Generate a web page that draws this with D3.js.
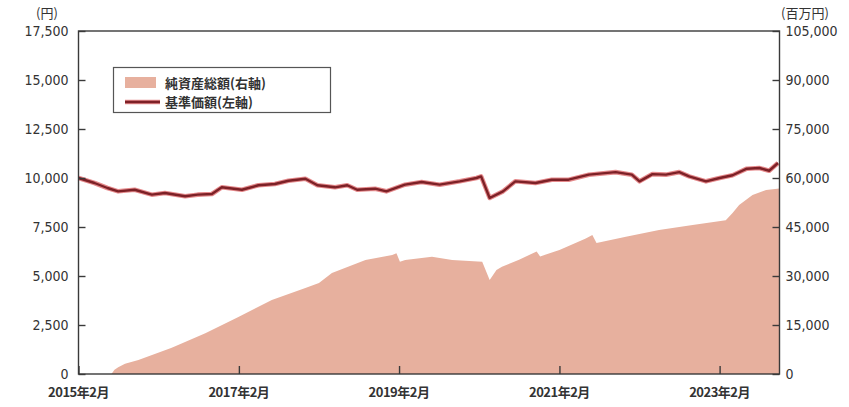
<!DOCTYPE html>
<html><head><meta charset="utf-8">
<script src="https://cdn.jsdelivr.net/npm/d3@7"></script>
<style>
html,body{margin:0;padding:0;background:#fff;}
svg{display:block;}
</style></head>
<body><svg id="c" width="849" height="407"></svg>
<script>
// ---- data ----
const navDates = ["2015-02-01","2015-04-15","2015-06-13","2015-08-01","2015-10-15","2016-01-01","2016-03-01","2016-06-01","2016-07-28","2016-10-01","2016-11-15","2017-02-15","2017-05-01","2017-07-15","2017-09-15","2017-12-01","2018-01-25","2018-04-15","2018-06-10","2018-07-25","2018-10-15","2018-12-05","2019-02-28","2019-05-15","2019-08-05","2019-11-05","2020-01-20","2020-02-10","2020-03-20","2020-05-20","2020-07-15","2020-10-15","2020-12-28","2021-03-15","2021-06-15","2021-10-15","2021-12-28","2022-02-01","2022-04-01","2022-06-01","2022-08-01","2022-09-15","2022-12-01","2023-02-01","2023-04-01","2023-06-05","2023-08-01","2023-09-15","2023-10-25"];
const navValues = [10000,9745,9490,9320,9400,9150,9235,9070,9150,9185,9525,9400,9630,9695,9860,9965,9630,9525,9630,9400,9455,9320,9660,9795,9660,9830,10000,10080,8980,9320,9830,9745,9913,9913,10170,10300,10170,9830,10200,10170,10300,10085,9830,10000,10140,10475,10510,10370,10765];

const assetDates = ["2015-07-01","2015-07-15","2015-08-01","2015-09-01","2015-11-01","2016-04-01","2016-09-01","2017-02-01","2017-07-01","2017-12-01","2018-02-01","2018-04-01","2018-09-01","2019-01-01","2019-01-20","2019-02-05","2019-03-01","2019-07-01","2019-10-01","2020-02-15","2020-03-20","2020-04-20","2020-05-15","2020-08-01","2020-10-20","2020-11-05","2021-02-01","2021-06-01","2021-07-01","2021-07-20","2021-12-01","2022-05-01","2022-10-01","2023-03-01","2023-04-01","2023-05-01","2023-07-01","2023-09-01","2023-11-01"];
const assetValues = [0,1300,2100,3100,4300,8000,12500,17500,22650,26300,27850,30900,34900,36400,37000,34400,34900,35900,34900,34400,28800,31800,32800,35000,37500,36000,37950,41500,42550,40100,42000,44100,45600,47100,49300,51700,54800,56300,56800];

const leftTicks = [0,2500,5000,7500,10000,12500,15000,17500];
const rightTicks = [0,15000,30000,45000,60000,75000,90000,105000];
const xTickDates = ["2015-02-01","2017-02-01","2019-02-01","2021-02-01","2023-02-01"];
const xTickLabels = ["2015年2月","2017年2月","2019年2月","2021年2月","2023年2月"];
const legendLabels = ["純資産総額(右軸)","基準価額(左軸)"];
const leftUnit = "(円)", rightUnit = "(百万円)";

// ---- drawing ----
const parse = d3.timeParse("%Y-%m-%d");
const nav = navDates.map((d,i)=>({date:parse(d), v:navValues[i]}));
const assets = assetDates.map((d,i)=>({date:parse(d), v:assetValues[i]}));

const L=78.5, R=779.5, T=31, B=374;
const svg = d3.select("#c");
const numFont = "'Liberation Sans Narrow','DejaVu Sans Condensed','Liberation Sans',Arial,sans-serif";
const jpFont = "'Noto Sans CJK JP','Noto Sans',sans-serif";

const x = d3.scaleTime().domain([parse("2015-02-01"), parse("2023-11-01")]).range([L,R]);
const yL = d3.scaleLinear().domain([0,17500]).range([B,T]);
const yR = d3.scaleLinear().domain([0,105000]).range([B,T]);

// area
svg.append("path").datum(assets)
  .attr("fill","#e7b09e")
  .attr("d", d3.area().x(d=>x(d.date)).y0(B).y1(d=>yR(d.v)).curve(d3.curveLinear));

// NAV line (glow + core)
const line = d3.line().x(d=>x(d.date)).y(d=>yL(d.v));
svg.append("path").datum(nav).attr("fill","none").attr("stroke","#e58a8c").attr("stroke-width",4.6).attr("stroke-linejoin","round").attr("d",line);
svg.append("path").datum(nav).attr("fill","none").attr("stroke","#7d2127").attr("stroke-width",2.4).attr("stroke-linejoin","round").attr("d",line);

// frame
const axCol = "#3a3a3a";
svg.append("rect").attr("x",L).attr("y",T).attr("width",R-L).attr("height",B-T)
  .attr("fill","none").attr("stroke",axCol).attr("stroke-width",1.4);

// left axis (ticks inward)
const gl = svg.append("g").attr("transform",`translate(${L},0)`)
  .call(d3.axisRight(yL).tickValues(leftTicks).tickSize(7).tickFormat(""));
gl.select(".domain").remove();
gl.selectAll("line").attr("stroke",axCol).attr("stroke-width",1.4);
svg.append("g").selectAll("text").data(leftTicks).join("text")
  .attr("x",L-10).attr("y",d=>yL(d)).attr("dy","0.35em").attr("text-anchor","end")
  .attr("font-family",numFont).attr("font-size",14).attr("fill","#333")
  .text(d3.format(","));

// right axis (ticks inward)
const gr = svg.append("g").attr("transform",`translate(${R},0)`)
  .call(d3.axisLeft(yR).tickValues(rightTicks).tickSize(7).tickFormat(""));
gr.select(".domain").remove();
gr.selectAll("line").attr("stroke",axCol).attr("stroke-width",1.4);
svg.append("g").selectAll("text").data(rightTicks).join("text")
  .attr("x",R+6).attr("y",d=>yR(d)).attr("dy","0.35em").attr("text-anchor","start")
  .attr("font-family",numFont).attr("font-size",14).attr("fill","#333")
  .text(d3.format(","));

// bottom axis (ticks inward)
const xt = xTickDates.map(parse);
const gb = svg.append("g").attr("transform",`translate(0,${B})`)
  .call(d3.axisTop(x).tickValues(xt).tickSize(8).tickFormat(""));
gb.select(".domain").remove();
gb.selectAll("line").attr("stroke",axCol).attr("stroke-width",1.4);
svg.append("g").selectAll("text").data(xt).join("text")
  .attr("x",d=>x(d)).attr("y",B+23).attr("text-anchor","middle")
  .attr("font-family",jpFont).attr("font-size",13).attr("font-weight","bold").attr("fill","#333")
  .attr("letter-spacing","-0.5")
  .text((d,i)=>xTickLabels[i]);

// units
svg.append("text").attr("x",47).attr("y",18).attr("text-anchor","middle")
  .attr("font-family",jpFont).attr("font-size",13).attr("fill","#333").text(leftUnit);
svg.append("text").attr("x",781).attr("y",18).attr("text-anchor","start")
  .attr("font-family",jpFont).attr("font-size",13).attr("fill","#333").text(rightUnit);

// legend
const lg = svg.append("g");
lg.append("rect").attr("x",113.5).attr("y",67.5).attr("width",217).attr("height",45)
  .attr("fill","#fff").attr("stroke","#555").attr("stroke-width",1.2);
lg.append("rect").attr("x",125).attr("y",77).attr("width",31).attr("height",11).attr("fill","#e7b09e");
lg.append("line").attr("x1",125).attr("x2",160).attr("y1",102).attr("y2",102).attr("stroke","#e58a8c").attr("stroke-width",4.6);
lg.append("line").attr("x1",125).attr("x2",160).attr("y1",102).attr("y2",102).attr("stroke","#7d2127").attr("stroke-width",2.4);
lg.selectAll("text.l").data(legendLabels).join("text").attr("class","l")
  .attr("x",165).attr("y",(d,i)=>83+i*19).attr("dy","0.35em")
  .attr("font-family",jpFont).attr("font-size",13).attr("font-weight","bold").attr("fill","#333")
  .text(d=>d);
</script></body></html>
